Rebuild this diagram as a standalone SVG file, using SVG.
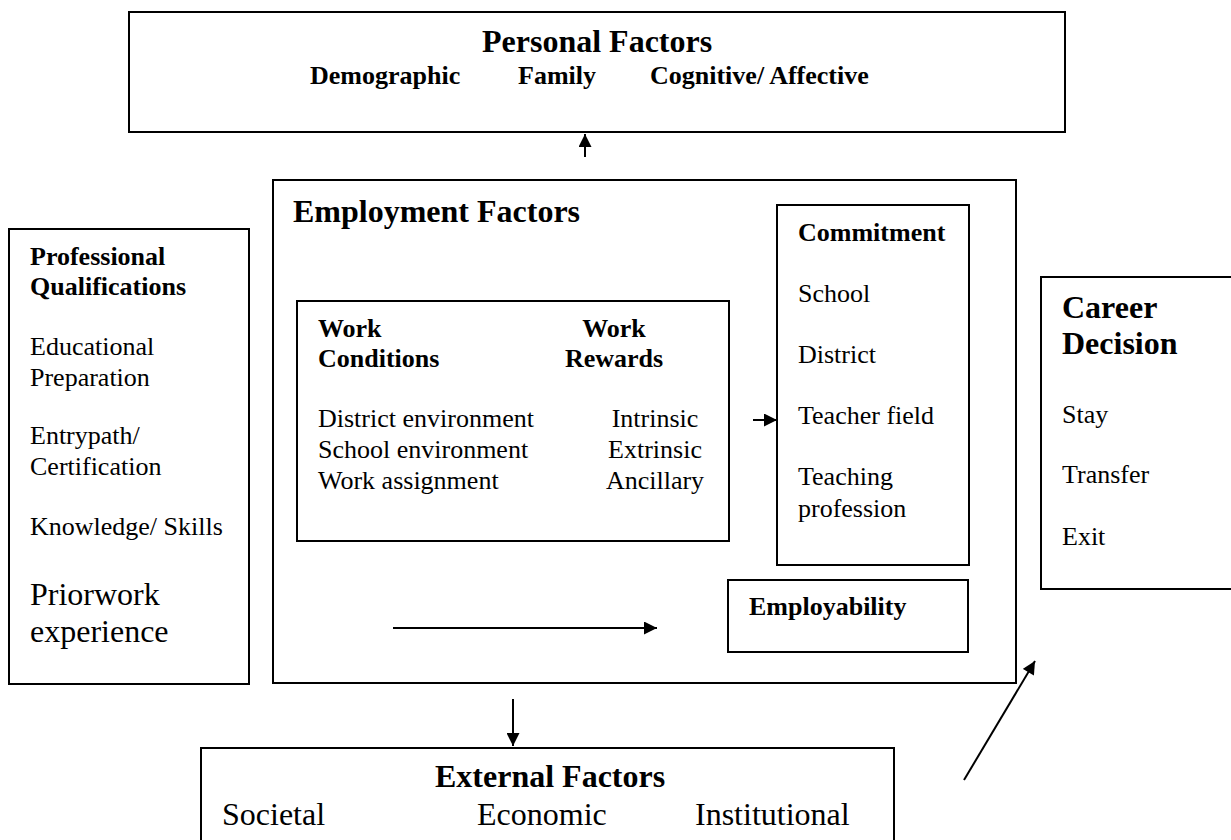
<svg xmlns="http://www.w3.org/2000/svg" width="1231" height="840" viewBox="0 0 1231 840">
<style>
  .box { fill: #fff; stroke: #000; stroke-width: 2; }
  .conn { stroke: #000; stroke-width: 2; fill: none; marker-end: url(#ah); }
  text { font-family: "Liberation Serif", "Times New Roman", serif; fill: #000; }
  .b { font-weight: bold; }
  .t32 { font-size: 32px; }
  .t26 { font-size: 26px; }
  .mid { text-anchor: middle; }
</style>
<defs>
  <marker id="ah" viewBox="0 0 10 10" refX="10" refY="5" markerWidth="14" markerHeight="13" markerUnits="userSpaceOnUse" orient="auto">
    <path d="M0,0 L10,5 L0,10 z" fill="#000"/>
  </marker>
</defs>
<rect width="1231" height="840" fill="#fff"/>

<g id="personal">
  <rect class="box" x="129" y="12" width="936" height="120"/>
  <text class="b t32" x="482" y="52">Personal Factors</text>
  <text class="b t26" x="310" y="84">Demographic</text>
  <text class="b t26" x="518" y="84">Family</text>
  <text class="b t26" x="650" y="84">Cognitive/ Affective</text>
</g>

<g id="professional">
  <rect class="box" x="9" y="229" width="240" height="455"/>
  <text class="b t26" x="30" y="265">Professional</text>
  <text class="b t26" x="30" y="295">Qualifications</text>
  <text class="t26" x="30" y="355">Educational</text>
  <text class="t26" x="30" y="386">Preparation</text>
  <text class="t26" x="30" y="444">Entrypath/</text>
  <text class="t26" x="30" y="475">Certification</text>
  <text class="t26" x="30" y="535">Knowledge/ Skills</text>
  <text class="t32" x="30" y="605">Priorwork</text>
  <text class="t32" x="30" y="642">experience</text>
</g>

<g id="employment">
  <rect class="box" x="273" y="180" width="743" height="503"/>
  <text class="b t32" x="293" y="222">Employment Factors</text>
</g>

<g id="work">
  <rect class="box" x="297" y="301" width="432" height="240"/>
  <text class="b t26" x="318" y="337">Work</text>
  <text class="b t26" x="318" y="367">Conditions</text>
  <text class="b t26 mid" x="614" y="337">Work</text>
  <text class="b t26 mid" x="614" y="367">Rewards</text>
  <text class="t26" x="318" y="427">District environment</text>
  <text class="t26" x="318" y="458">School environment</text>
  <text class="t26" x="318" y="489">Work assignment</text>
  <text class="t26 mid" x="655" y="427">Intrinsic</text>
  <text class="t26 mid" x="655" y="458">Extrinsic</text>
  <text class="t26 mid" x="655" y="489">Ancillary</text>
</g>

<g id="commitment">
  <rect class="box" x="777" y="205" width="192" height="360"/>
  <text class="b t26" x="798" y="241">Commitment</text>
  <text class="t26" x="798" y="302">School</text>
  <text class="t26" x="798" y="363">District</text>
  <text class="t26" x="798" y="424">Teacher field</text>
  <text class="t26" x="798" y="485">Teaching</text>
  <text class="t26" x="798" y="517">profession</text>
</g>

<g id="employability">
  <rect class="box" x="728" y="580" width="240" height="72"/>
  <text class="b t26" x="749" y="615">Employability</text>
</g>

<g id="career">
  <rect class="box" x="1041" y="277" width="200" height="312"/>
  <text class="b t32" x="1062" y="318">Career</text>
  <text class="b t32" x="1062" y="354">Decision</text>
  <text class="t26" x="1062" y="423">Stay</text>
  <text class="t26" x="1062" y="483">Transfer</text>
  <text class="t26" x="1062" y="545">Exit</text>
</g>

<g id="external">
  <rect class="box" x="201" y="748" width="693" height="110"/>
  <text class="b t32" x="435" y="787">External Factors</text>
  <text class="t32" x="222" y="825">Societal</text>
  <text class="t32" x="477" y="825">Economic</text>
  <text class="t32" x="695" y="825">Institutional</text>
</g>

<g id="connectors">
  <line class="conn" x1="585" y1="157" x2="585" y2="134"/>
  <line class="conn" x1="753" y1="420" x2="777" y2="420"/>
  <line class="conn" x1="393" y1="628" x2="657" y2="628"/>
  <line class="conn" x1="513" y1="699" x2="513" y2="746"/>
  <line class="conn" x1="964" y1="780" x2="1035" y2="661"/>
</g>
</svg>
